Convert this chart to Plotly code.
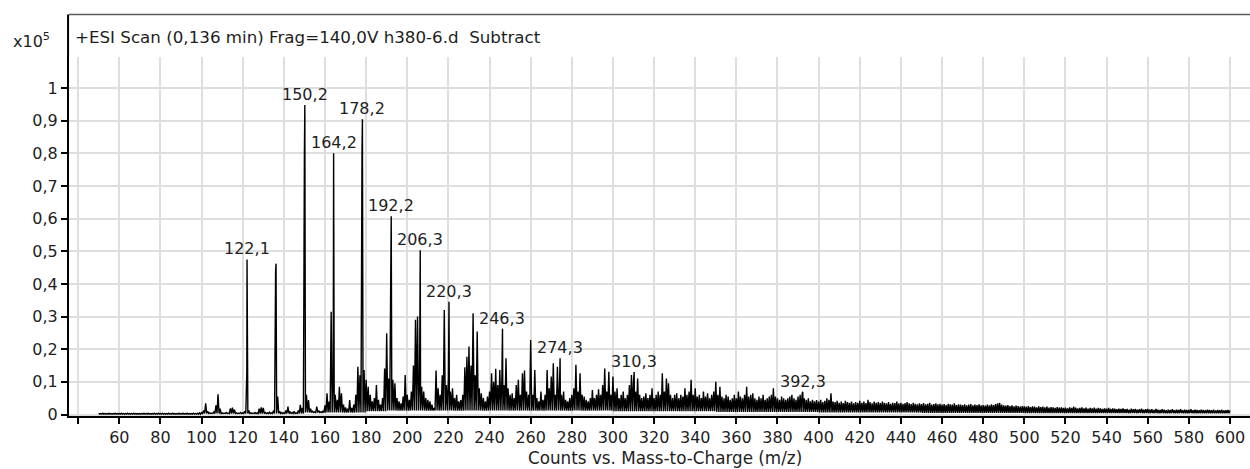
import plotly.graph_objects as go

# Mass spectrum, intensities in units of 1e5 counts.
# Profile tops at each unit m/z, starting at MASS_START.
MASS_START = 50
unit_mass_tops = [
    # 50-99
    0.004, 0.003, 0.004, 0.003, 0.003, 0.004, 0.003, 0.003, 0.004, 0.003,
    0.003, 0.004, 0.003, 0.003, 0.004, 0.003, 0.003, 0.004, 0.003, 0.003,
    0.003, 0.003, 0.004, 0.003, 0.004, 0.003, 0.003, 0.004, 0.003, 0.004,
    0.003, 0.004, 0.003, 0.003, 0.004, 0.003, 0.004, 0.003, 0.003, 0.004,
    0.003, 0.004, 0.003, 0.004, 0.003, 0.003, 0.004, 0.003, 0.004, 0.005,
    # 100-149
    0.006, 0.012, 0.034, 0.010, 0.005, 0.004, 0.008, 0.028, 0.062, 0.018,
    0.005, 0.004, 0.006, 0.004, 0.019, 0.021, 0.015, 0.005, 0.004, 0.006,
    0.005, 0.010, 0.132, 0.012, 0.005, 0.004, 0.006, 0.005, 0.018, 0.022,
    0.020, 0.006, 0.005, 0.007, 0.005, 0.012, 0.440, 0.055, 0.010, 0.006,
    0.005, 0.012, 0.024, 0.008, 0.006, 0.010, 0.005, 0.012, 0.030, 0.020,
    # 150-199
    0.805, 0.060, 0.044, 0.018, 0.010, 0.008, 0.024, 0.012, 0.008, 0.010,
    0.028, 0.065, 0.040, 0.315, 0.116, 0.060, 0.045, 0.085, 0.065, 0.030,
    0.022, 0.018, 0.044, 0.020, 0.030, 0.060, 0.146, 0.120, 0.810, 0.136,
    0.106, 0.085, 0.060, 0.040, 0.050, 0.090, 0.045, 0.030, 0.050, 0.141,
    0.249, 0.110, 0.448, 0.106, 0.096, 0.050, 0.040, 0.034, 0.055, 0.121,
    # 200-249
    0.060, 0.045, 0.070, 0.150, 0.290, 0.300, 0.120, 0.085, 0.070, 0.050,
    0.045, 0.040, 0.030, 0.020, 0.135, 0.080, 0.060, 0.120, 0.320, 0.090,
    0.110, 0.070, 0.080, 0.050, 0.060, 0.040, 0.044, 0.060, 0.145, 0.177,
    0.208, 0.150, 0.310, 0.120, 0.254, 0.080, 0.065, 0.050, 0.040, 0.055,
    0.070, 0.126, 0.100, 0.140, 0.090, 0.136, 0.110, 0.090, 0.172, 0.080,
    # 250-299
    0.060, 0.065, 0.050, 0.090, 0.106, 0.060, 0.126, 0.135, 0.070, 0.060,
    0.228, 0.060, 0.136, 0.050, 0.040, 0.070, 0.045, 0.060, 0.136, 0.080,
    0.116, 0.157, 0.060, 0.146, 0.080, 0.060, 0.070, 0.045, 0.040, 0.050,
    0.060, 0.080, 0.152, 0.070, 0.126, 0.060, 0.055, 0.045, 0.040, 0.050,
    0.075, 0.050, 0.060, 0.077, 0.060, 0.090, 0.141, 0.070, 0.131, 0.060,
    # 300-349
    0.116, 0.070, 0.080, 0.050, 0.060, 0.070, 0.050, 0.060, 0.090, 0.121,
    0.100, 0.070, 0.110, 0.060, 0.050, 0.055, 0.065, 0.050, 0.060, 0.080,
    0.050, 0.060, 0.070, 0.060, 0.126, 0.070, 0.110, 0.096, 0.060, 0.050,
    0.060, 0.065, 0.050, 0.060, 0.055, 0.080, 0.060, 0.070, 0.106, 0.060,
    0.080, 0.055, 0.060, 0.050, 0.070, 0.055, 0.065, 0.050, 0.060, 0.070,
    # 350-399
    0.100, 0.060, 0.085, 0.055, 0.050, 0.060, 0.055, 0.045, 0.050, 0.060,
    0.050, 0.070, 0.055, 0.050, 0.060, 0.085, 0.055, 0.060, 0.065, 0.050,
    0.045, 0.055, 0.050, 0.060, 0.045, 0.050, 0.055, 0.060, 0.080, 0.055,
    0.050, 0.045, 0.055, 0.050, 0.045, 0.050, 0.055, 0.060, 0.050, 0.045,
    0.055, 0.060, 0.065, 0.050, 0.045, 0.050, 0.040, 0.045, 0.040, 0.044,
    # 400-449
    0.040, 0.045, 0.038, 0.042, 0.050, 0.045, 0.065, 0.040, 0.038, 0.042,
    0.036, 0.040, 0.035, 0.042, 0.038, 0.036, 0.040, 0.034, 0.038, 0.036,
    0.042, 0.036, 0.040, 0.035, 0.045, 0.038, 0.034, 0.040, 0.036, 0.038,
    0.035, 0.040, 0.036, 0.034, 0.038, 0.033, 0.036, 0.035, 0.040, 0.034,
    0.036, 0.033, 0.035, 0.038, 0.034, 0.032, 0.036, 0.033, 0.031, 0.034,
    # 450-499
    0.032, 0.035, 0.031, 0.033, 0.036, 0.030, 0.032, 0.034, 0.031, 0.033,
    0.030, 0.032, 0.029, 0.033, 0.031, 0.030, 0.034, 0.029, 0.031, 0.030,
    0.029, 0.031, 0.028, 0.030, 0.032, 0.028, 0.030, 0.029, 0.031, 0.028,
    0.029, 0.027, 0.030, 0.028, 0.031, 0.029, 0.032, 0.034, 0.036, 0.030,
    0.028, 0.027, 0.029, 0.026, 0.028, 0.025, 0.027, 0.026, 0.024, 0.026,
    # 500-549
    0.025, 0.024, 0.026, 0.023, 0.025, 0.024, 0.022, 0.025, 0.023, 0.024,
    0.022, 0.024, 0.021, 0.023, 0.022, 0.020, 0.023, 0.021, 0.022, 0.020,
    0.021, 0.019, 0.022, 0.020, 0.024, 0.021, 0.019, 0.020, 0.022, 0.019,
    0.021, 0.018, 0.020, 0.019, 0.021, 0.018, 0.020, 0.019, 0.017, 0.019,
    0.018, 0.020, 0.017, 0.019, 0.018, 0.016, 0.018, 0.017, 0.019, 0.016,
    # 550-600
    0.017, 0.015, 0.018, 0.016, 0.017, 0.015, 0.016, 0.018, 0.015, 0.016,
    0.017, 0.015, 0.016, 0.014, 0.017, 0.015, 0.014, 0.016, 0.015, 0.013,
    0.015, 0.014, 0.016, 0.013, 0.015, 0.014, 0.016, 0.013, 0.015, 0.014,
    0.014, 0.016, 0.013, 0.015, 0.014, 0.013, 0.015, 0.014, 0.013, 0.015,
    0.014, 0.013, 0.015, 0.012, 0.014, 0.013, 0.015, 0.012, 0.013, 0.014,
    0.012,
]

# Lower edge of the profile between unit masses, one value per 10 m/z bin from 50.
valley_levels = [
    0.001, 0.001, 0.001, 0.001, 0.001,            # 50-99
    0.003, 0.003, 0.003, 0.003, 0.003,            # 100-149
    0.006, 0.006, 0.006, 0.010, 0.012,            # 150-199
    0.012, 0.012, 0.012, 0.012, 0.012,            # 200-249
    0.012, 0.012, 0.012, 0.012, 0.012,            # 250-299
    0.010, 0.010, 0.010, 0.010, 0.010,            # 300-349
    0.008, 0.008, 0.008, 0.008, 0.008,            # 350-399
    0.006, 0.006, 0.006, 0.006, 0.006,            # 400-449
    0.005, 0.005, 0.005, 0.005, 0.005,            # 450-499
    0.004, 0.004, 0.004, 0.004, 0.004,            # 500-549
    0.004, 0.004, 0.004, 0.004, 0.004, 0.004,     # 550-600
]

# Centroided peak apexes
peak_mz = [122.1, 136.2, 150.2, 164.2, 178.2, 192.2, 206.3, 220.3, 246.3, 274.3, 310.3, 392.3]
peak_int = [0.475, 0.462, 0.948, 0.800, 0.904, 0.607, 0.503, 0.345, 0.263, 0.172, 0.130, 0.070]
peak_labeled = [True, False, True, True, True, True, True, True, True, True, True, True]

x_tick_values = list(range(60, 601, 20))
x_tick_labels = [str(v) for v in x_tick_values]
x_minor_ticks = [40]
y_tick_values = [0, 0.1, 0.2, 0.3, 0.4, 0.5, 0.6, 0.7, 0.8, 0.9, 1.0]
y_tick_labels = ["0", "0,1", "0,2", "0,3", "0,4", "0,5", "0,6", "0,7", "0,8", "0,9", "1"]

scan_title = "+ESI Scan (0,136 min) Frag=140,0V h380-6.d\u00a0 Subtract"
x_title = "Counts vs. Mass-to-Charge (m/z)"

# ---- build the profile trace ----
points = []
n = len(unit_mass_tops)
for i, top in enumerate(unit_mass_tops):
    m = MASS_START + i
    points.append((m, top))
    if i < n - 1:
        points.append((m + 0.5, valley_levels[i // 10]))
for mz, h in zip(peak_mz, peak_int):
    points.append((mz, h))
points.sort(key=lambda p: p[0])
prof_x = [p[0] for p in points]
prof_y = [p[1] for p in points]

FONT = "DejaVu Sans, Verdana, sans-serif"
FS = 16
TEXT = "#1e1e1e"

fig = go.Figure()
fig.add_trace(go.Scatter(
    x=prof_x, y=prof_y, mode="lines",
    line=dict(color="black", width=1.4, simplify=False),
    hoverinfo="skip", showlegend=False,
))

W, H = 1250, 469
ML, MR, MT, MB = 69, 0, 57, 53
plot_w = W - ML - MR
plot_h = H - MT - MB

annotations = []
for mz, h, lab in zip(peak_mz, peak_int, peak_labeled):
    if not lab:
        continue
    annotations.append(dict(
        x=mz, y=h, xref="x", yref="y", text=f"{mz:.1f}".replace(".", ","),
        showarrow=False, xanchor="center", yanchor="bottom",
        font=dict(family=FONT, size=FS, color=TEXT), borderpad=0, yshift=0,
    ))


def py(pix):
    return (H - MB - pix) / plot_h


annotations += [
    dict(x=(11 - ML) / plot_w, y=py(40), xref="paper", yref="paper",
         text="x10<sup>5</sup>", showarrow=False, xanchor="left", yanchor="middle",
         font=dict(family=FONT, size=FS, color=TEXT)),
    dict(x=(73 - ML) / plot_w, y=py(37), xref="paper", yref="paper",
         text=scan_title, showarrow=False, xanchor="left", yanchor="middle",
         font=dict(family=FONT, size=16.7, color=TEXT)),
    dict(x=(665 - ML) / plot_w, y=py(458), xref="paper", yref="paper",
         text=x_title, showarrow=False, xanchor="center", yanchor="middle",
         font=dict(family=FONT, size=16.8, color=TEXT)),
]

frame_top = py(14.5)
shapes = [
    dict(type="line", xref="paper", yref="paper", x0=0, x1=1, y0=frame_top, y1=frame_top,
         line=dict(color="#5c5c5c", width=1.5)),
    dict(type="line", xref="paper", yref="paper", x0=-0.0008, x1=-0.0008, y0=1, y1=frame_top,
         line=dict(color="black", width=2)),
]

px_per_mz = 1110.7 / 540.0
x_lo = 60 - (119.3 - ML) / px_per_mz
x_hi = 600 + (W - MR - 1230.0) / px_per_mz
px_per_unit = 326.5
y_lo = -1.5 / px_per_unit
y_hi = plot_h / px_per_unit + y_lo

axis_common = dict(
    showline=True, linecolor="black", linewidth=2,
    ticks="outside", ticklen=6, tickwidth=1.5, tickcolor="black",
    showgrid=True, gridcolor="#dedede", gridwidth=1.5, zeroline=False,
    tickfont=dict(family=FONT, size=FS, color=TEXT),
)

fig.update_layout(
    width=W, height=H,
    margin=dict(l=ML, r=MR, t=MT, b=MB, pad=0),
    paper_bgcolor="white", plot_bgcolor="white",
    xaxis=dict(range=[x_lo, x_hi], tickmode="array", tickvals=x_tick_values,
               ticktext=x_tick_labels,
               minor=dict(tickmode="array", tickvals=x_minor_ticks, ticks="outside",
                          ticklen=6, tickwidth=1.5, tickcolor="black",
                          showgrid=True, gridcolor="#dedede", gridwidth=1.5),
               **axis_common),
    yaxis=dict(range=[y_lo, y_hi], tickmode="array",
               tickvals=y_tick_values, ticktext=y_tick_labels, **axis_common),
    annotations=annotations,
    shapes=shapes,
    showlegend=False,
)

fig.write_html("out.html")
